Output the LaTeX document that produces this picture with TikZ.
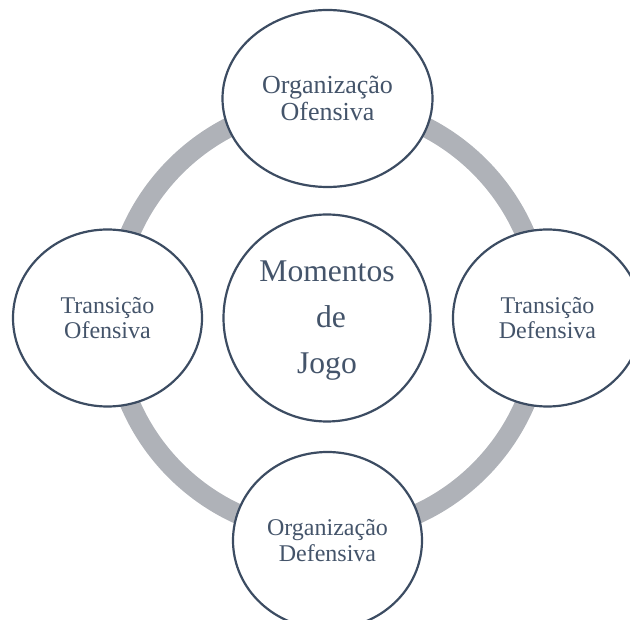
\documentclass[tikz,border=0pt]{standalone}
\usepackage{fontspec}
\setmainfont{Liberation Serif}
\usetikzlibrary{shapes.geometric}
\definecolor{ringgray}{HTML}{AFB2B8}
\definecolor{edgeblue}{HTML}{3C4C62}
\definecolor{textblue}{HTML}{44546A}
\tikzset{
  phase/.style={ellipse, draw=edgeblue, line width=2.2pt, fill=white, inner sep=0pt,
    minimum width=189pt, minimum height=177pt, text=textblue, align=center,
    font=\fontsize{24}{25.5}\selectfont},
  hub/.style={circle, draw=edgeblue, line width=2.2pt, fill=white, inner sep=0pt,
    minimum size=207pt, text=textblue,
    font=\fontsize{31.6}{46}\selectfont}
}
\begin{document}
\begin{tikzpicture}[x=1pt,y=-1pt]
\useasboundingbox (0,0) rectangle (630,620);
\clip (0,0) rectangle (630,620);
\coordinate (c) at (327.5,318.5);
\draw[ringgray, line width=20pt] (c) circle (215);
\node[hub] (hub) at (327,318) {\raisebox{-4pt}{\begin{tabular}{@{}c@{}}Momentos\\\hspace*{0.25em}de\\Jogo\end{tabular}}};
\node[phase, minimum width=210pt, font=\fontsize{26}{27.5}\selectfont] (oo) at (327.5,98.5) {Organização\\Ofensiva};
\node[phase] (td) at (547.5,318) {Transição\\Defensiva};
\node[phase] (od) at (327.5,540.5) {Organização\\Defensiva};
\node[phase] (to) at (107.5,318) {Transição\\Ofensiva};
\end{tikzpicture}
\end{document}
